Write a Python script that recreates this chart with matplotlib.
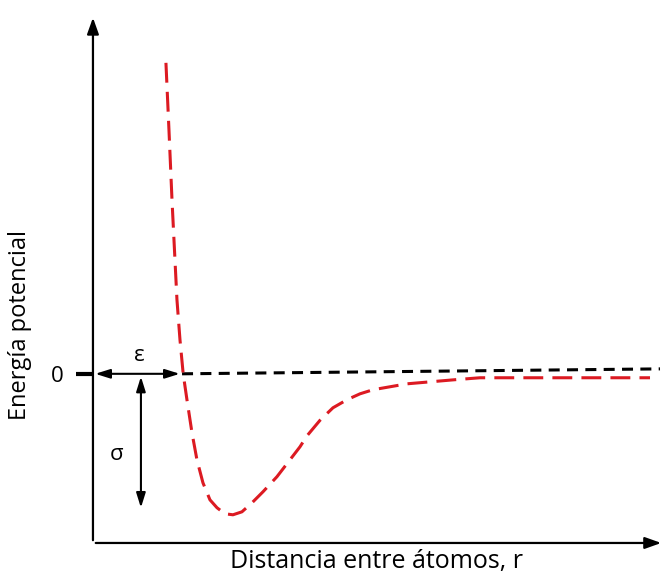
import matplotlib.pyplot as plt

# distance r (axis units 0-10) and potential energy (well depth = 1)
r_curve = [1.278, 1.331, 1.384, 1.436, 1.471, 1.524, 1.58, 1.646, 1.734, 1.821, 1.926,
           2.049, 2.172, 2.312, 2.452, 2.609, 2.785, 2.977, 3.222, 3.450, 3.625, 3.748,
           3.975, 4.203, 4.448, 4.676, 4.904, 5.201, 5.499, 5.902, 6.305, 6.778, 8.18, 9.755]
e_curve = [2.206, 1.730, 1.234, 0.809, 0.525, 0.241, 0.0, -0.184, -0.418, -0.610, -0.773,
           -0.894, -0.950, -0.993, -1.000, -0.979, -0.915, -0.837, -0.730, -0.610, -0.518, -0.440,
           -0.330, -0.241, -0.184, -0.142, -0.113, -0.092, -0.071, -0.057, -0.043, -0.028, -0.028, -0.028]

r_zero = [1.56, 9.93]
e_zero = [0.0, 0.035]

plt.rcParams['font.family'] = ['Open Sans', 'DejaVu Sans']

fig = plt.figure(figsize=(6.64, 5.73), dpi=100)
ax = fig.add_axes([0.140, 0.0524, 0.860, 0.9216])
ax.set_xlim(0, 10)
ax.set_ylim(-1.2, 2.546)
for s in ax.spines.values():
    s.set_visible(False)
ax.set_xticks([])
ax.set_yticks([0])
ax.set_yticklabels(['0'], fontsize=16)
ax.tick_params(axis='y', length=12, width=3, pad=9)

# axes with arrow heads
head = '-|>,head_width=0.25,head_length=0.7'
ax.annotate('', xy=(0, 2.546), xytext=(0, -1.2),
            arrowprops=dict(arrowstyle=head, lw=1.6, color='black', mutation_scale=14),
            annotation_clip=False)
ax.annotate('', xy=(10.0, -1.2), xytext=(0, -1.2),
            arrowprops=dict(arrowstyle=head, lw=1.6, color='black', mutation_scale=14),
            annotation_clip=False)

ax.plot(r_zero, e_zero, color='black', lw=2.2, dashes=(3.6, 2.4))
ax.plot(r_curve, e_curve, color='#dc1a22', lw=2.2, dashes=(6.5, 3))

# epsilon and sigma arrows
dbl = '<|-|>,head_width=0.25,head_length=0.8'
ax.annotate('', xy=(1.52, 0), xytext=(0.04, 0),
            arrowprops=dict(arrowstyle=dbl, lw=1.5, color='black', mutation_scale=11,
                            shrinkA=0, shrinkB=0))
ax.text(0.82, 0.13, 'ε', fontsize=16, ha='center', va='center')
ax.annotate('', xy=(0.84, -0.95), xytext=(0.84, -0.02),
            arrowprops=dict(arrowstyle=dbl, lw=1.5, color='black', mutation_scale=11,
                            shrinkA=0, shrinkB=0))
ax.text(0.42, -0.57, 'σ', fontsize=16, ha='center', va='center')

fig.text(20 / 664, 1 - 325 / 573, 'Energía potencial', rotation=90,
         ha='center', va='center', fontsize=17)
fig.text(376 / 664, 1 - 568 / 573, 'Distancia entre átomos, r',
         ha='center', va='baseline', fontsize=18)

fig.savefig('out.png', dpi=100)
